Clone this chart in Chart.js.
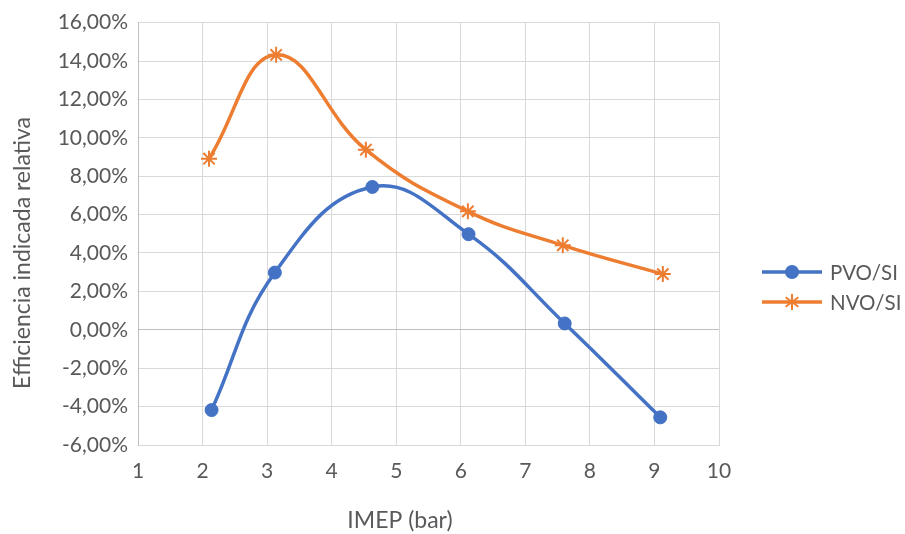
<!DOCTYPE html>
<html>
<head>
<meta charset="utf-8">
<script src="https://cdn.jsdelivr.net/npm/chart.js@4.4.1/dist/chart.umd.min.js"></script>
<style>
  html, body { margin: 0; padding: 0; background: #fff; }
  #wrap { width: 905px; height: 534px; }
</style>
</head>
<body>
<div id="wrap"><canvas id="effChart" width="905" height="534"></canvas></div>
<script>
// IMEP (bar) and relative indicated efficiency (%)
const pvoImep = [2.14, 3.12, 4.63, 6.12, 7.61, 9.09];
const pvoEff  = [-4.18, 2.98, 7.44, 4.98, 0.33, -4.56];
const nvoImep = [2.10, 3.14, 4.53, 6.11, 7.58, 9.13];
const nvoEff  = [8.91, 14.32, 9.38, 6.17, 4.40, 2.90];

const seriesNames = ['PVO/SI', 'NVO/SI'];
const xTitle = 'IMEP (bar)';
const yTitle = 'Efficiencia indicada relativa';

const textColor = '#595959';
const fontFamily = 'Lato, "Noto Sans", sans-serif';
const blue = '#4472C4';
const orange = '#ED7D31';

function toPoints(xs, ys) {
    return xs.map((x, i) => ({ x: x, y: ys[i] }));
}

function drawMarker(ctx, style, x, y, color) {
    ctx.save();
    ctx.fillStyle = color;
    ctx.strokeStyle = color;
    if (style === 'circle') {
        ctx.beginPath();
        ctx.arc(x, y, 7, 0, Math.PI * 2);
        ctx.fill();
    } else {
        ctx.lineWidth = 2;
        const r = 8;
        ctx.beginPath();
        ctx.moveTo(x, y - r); ctx.lineTo(x, y + r);
        ctx.moveTo(x - r * 0.8, y - r * 0.6); ctx.lineTo(x + r * 0.8, y + r * 0.6);
        ctx.moveTo(x - r * 0.8, y + r * 0.6); ctx.lineTo(x + r * 0.8, y - r * 0.6);
        ctx.stroke();
    }
    ctx.restore();
}

// legend on the right and the two axis titles
const sideItems = {
    id: 'sideItems',
    afterDraw(chart) {
        const ctx = chart.ctx;
        ctx.save();
        ctx.fillStyle = textColor;
        ctx.textBaseline = 'middle';

        ctx.font = '20.5px ' + fontFamily;
        chart.data.datasets.forEach((ds, i) => {
            const y = 272 + i * 30;
            ctx.save();
            ctx.strokeStyle = ds.borderColor;
            ctx.lineWidth = 3.5;
            ctx.beginPath();
            ctx.moveTo(762, y);
            ctx.lineTo(822, y);
            ctx.stroke();
            ctx.restore();
            drawMarker(ctx, ds.pointStyle, 792, y, ds.borderColor);
            ctx.textAlign = 'left';
            ctx.fillText(ds.label, 830, y + 1);
        });

        ctx.font = '23px ' + fontFamily;
        // x title
        ctx.textAlign = 'center';
        ctx.fillText(xTitle, 400, 521);

        // y title
        ctx.translate(23, 253);
        ctx.rotate(-Math.PI / 2);
        ctx.fillText(yTitle, 0, 0);
        ctx.restore();
    }
};

const ctx = document.getElementById('effChart').getContext('2d');
const effChart = new Chart(ctx, {
    type: 'scatter',
    data: {
        datasets: [
            {
                label: seriesNames[0],
                data: toPoints(pvoImep, pvoEff),
                showLine: true,
                borderColor: blue,
                backgroundColor: blue,
                borderWidth: 3.5,
                tension: 0.42,
                pointStyle: 'circle',
                pointRadius: 6.5,
                pointBorderWidth: 1,
                pointHoverRadius: 6.5
            },
            {
                label: seriesNames[1],
                data: toPoints(nvoImep, nvoEff),
                showLine: true,
                borderColor: orange,
                backgroundColor: orange,
                borderWidth: 3.5,
                tension: 0.42,
                pointStyle: 'star',
                pointRadius: 8,
                pointBorderWidth: 2,
                pointHoverRadius: 8
            }
        ]
    },
    options: {
        responsive: false,
        animation: false,
        layout: { padding: { left: 0, right: 186, top: 22, bottom: 0 } },
        plugins: {
            legend: { display: false },
            tooltip: { enabled: false }
        },
        scales: {
            x: {
                type: 'linear',
                min: 1,
                max: 10,
                ticks: {
                    stepSize: 1,
                    color: textColor,
                    font: { family: fontFamily, size: 21 },
                    padding: 14
                },
                grid: { color: '#d9d9d9', lineWidth: 1, drawTicks: false },
                border: { color: '#d9d9d9' },
                afterFit: function (scale) { scale.height = 89; }
            },
            y: {
                min: -6,
                max: 16,
                ticks: {
                    stepSize: 2,
                    color: textColor,
                    font: { family: fontFamily, size: 21 },
                    padding: 10,
                    callback: function (v) { return v.toFixed(2).replace('.', ',') + '%'; }
                },
                grid: {
                    color: function (c) { return c.tick && c.tick.value === 0 ? '#bfbfbf' : '#d9d9d9'; },
                    lineWidth: 1,
                    drawTicks: false
                },
                border: { color: '#bfbfbf' },
                afterFit: function (scale) { scale.width = 138; }
            }
        }
    },
    plugins: [sideItems]
});
</script>
</body>
</html>
